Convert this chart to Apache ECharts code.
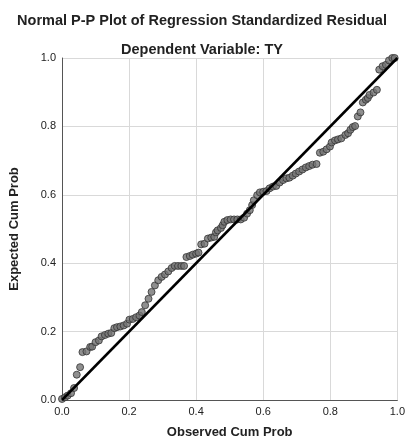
<!DOCTYPE html>
<html><head><meta charset="utf-8">
<script src="https://cdn.jsdelivr.net/npm/echarts@6/dist/echarts.min.js"></script>
<style>html,body{margin:0;padding:0;background:#fff}#c{width:408px;height:446px}</style>
</head><body><div id="c"></div>
<script>
var titleText = "Normal P-P Plot of Regression Standardized Residual";
var subtitleText = "Dependent Variable: TY";
var xAxisName = "Observed Cum Prob";
var yAxisName = "Expected Cum Prob";
var tickValues = [0, 0.2, 0.4, 0.6, 0.8, 1.0];
var observedCumProb = [0.000,0.009,0.017,0.027,0.036,0.044,0.054,0.061,0.073,0.084,0.090,0.100,0.110,0.118,0.128,0.138,0.147,0.156,0.164,0.174,0.184,0.194,0.201,0.211,0.221,0.231,0.238,0.248,0.258,0.267,0.277,0.287,0.297,0.307,0.317,0.327,0.336,0.346,0.356,0.364,0.371,0.381,0.390,0.400,0.407,0.415,0.425,0.435,0.445,0.454,0.459,0.464,0.474,0.479,0.484,0.493,0.503,0.513,0.523,0.533,0.543,0.552,0.560,0.567,0.572,0.582,0.590,0.600,0.610,0.619,0.629,0.639,0.649,0.659,0.669,0.678,0.688,0.697,0.707,0.717,0.727,0.737,0.747,0.759,0.769,0.779,0.789,0.799,0.804,0.814,0.823,0.833,0.845,0.853,0.860,0.867,0.874,0.882,0.890,0.897,0.906,0.912,0.917,0.929,0.939,0.946,0.956,0.966,0.975,0.985,0.992];
var expectedCumProb = [0.003,0.008,0.013,0.020,0.035,0.074,0.096,0.140,0.142,0.155,0.156,0.169,0.174,0.186,0.190,0.194,0.196,0.210,0.213,0.215,0.218,0.223,0.235,0.237,0.242,0.247,0.257,0.277,0.296,0.316,0.335,0.350,0.360,0.367,0.376,0.386,0.392,0.392,0.392,0.392,0.418,0.421,0.425,0.428,0.431,0.455,0.457,0.472,0.475,0.477,0.490,0.496,0.503,0.511,0.521,0.526,0.528,0.528,0.528,0.528,0.533,0.545,0.555,0.570,0.584,0.599,0.607,0.609,0.611,0.619,0.624,0.626,0.636,0.643,0.648,0.650,0.656,0.662,0.668,0.674,0.680,0.684,0.688,0.690,0.723,0.726,0.733,0.741,0.753,0.759,0.762,0.765,0.775,0.780,0.790,0.798,0.801,0.829,0.841,0.870,0.878,0.883,0.892,0.899,0.907,0.966,0.976,0.980,0.993,1.000,1.000];
var refLineX = [0, 1];
var refLineY = [0, 1];

var pts = observedCumProb.map(function(x,i){return [x, expectedCumProb[i]];});
var ref = refLineX.map(function(x,i){return [x, refLineY[i]];});

var chart = echarts.init(document.getElementById('c'), null, {renderer:'canvas'});
var fam = '"Liberation Sans", Arial, sans-serif';
function axis(name, gap, rotate){
  return {
    type:'value', min:0, max:1, interval:0.2,
    name:name, nameLocation:'middle', nameGap:gap, nameRotate:rotate,
    nameTextStyle:{color:'#222', fontSize:13, fontWeight:'bold', fontFamily:fam},
    axisLine:{show:true, lineStyle:{color:'#555', width:1}},
    axisTick:{show:false},
    axisLabel:{color:'#222', fontSize:11, fontFamily:fam, margin:6,
      showMinLabel:true, showMaxLabel:true,
      formatter:function(v){return v.toFixed(1);}},
    splitLine:{show:true, lineStyle:{color:'#d9d9d9', width:1}}
  };
}
var xa = axis(xAxisName, 26, 0);
var ya = axis(yAxisName, 41, 90);
chart.setOption({
  animation:false,
  backgroundColor:'#fff',
  title:[
    {text:titleText, left:197, textAlign:'center', top:8, textStyle:{color:'#222', fontSize:14.5, fontWeight:'bold', fontFamily:fam}},
    {text:subtitleText, left:197, textAlign:'center', top:37, textStyle:{color:'#222', fontSize:14.5, fontWeight:'bold', fontFamily:fam}}
  ],
  grid:{left:60, right:8, top:58, bottom:46},
  xAxis:xa,
  yAxis:ya,
  series:[
    {type:'scatter', data:pts, symbol:'circle', symbolSize:7,
     itemStyle:{color:'#737373', borderColor:'#333', borderWidth:1}, z:3},
    {type:'line', data:ref, symbol:'none', lineStyle:{color:'#000', width:2.5}, z:4}
  ]
});
</script></body></html>
